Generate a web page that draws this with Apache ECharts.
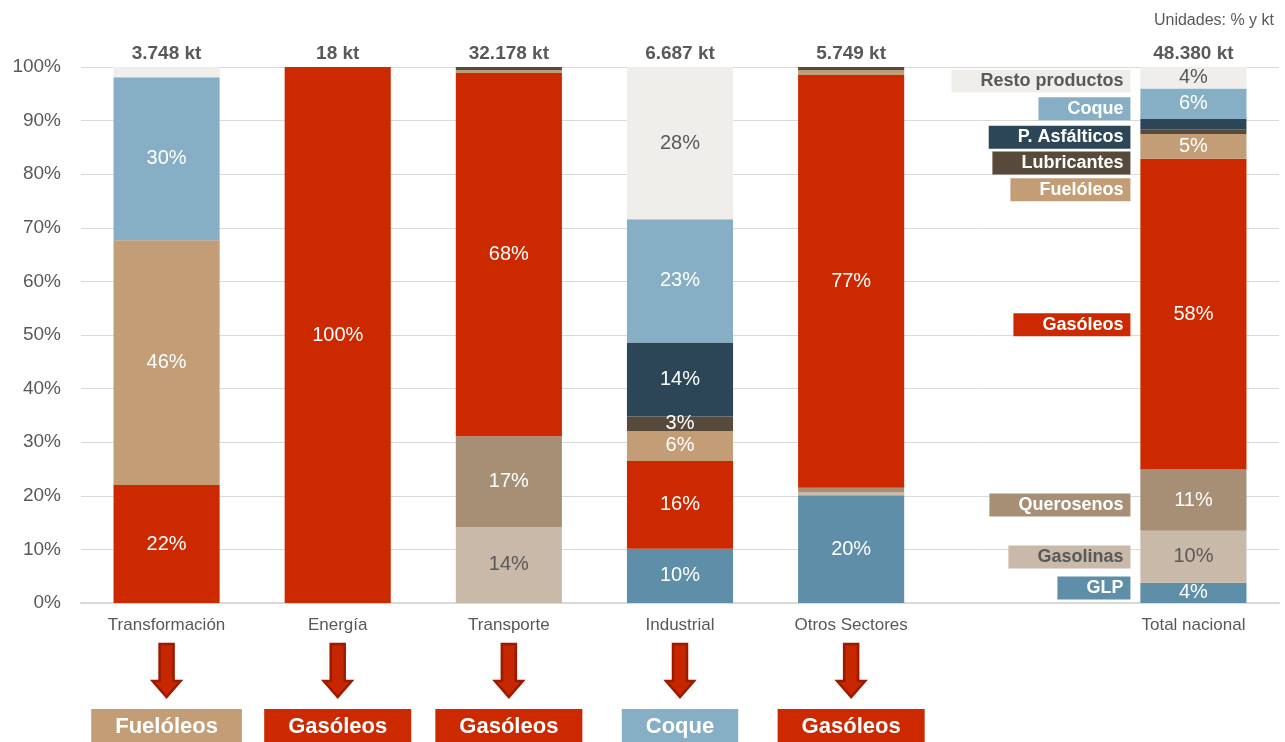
<!DOCTYPE html>
<html>
<head>
<meta charset="utf-8">
<script src="https://cdn.jsdelivr.net/npm/echarts@6/dist/echarts.min.js"></script>
<style>
html,body{margin:0;padding:0;background:#fff;}
#chart{width:1285px;height:742px;}
</style>
</head>
<body>
<div id="chart"></div>
<script>
// ---------- DATA ----------
const categories = ['Transformación', 'Energía', 'Transporte', 'Industrial', 'Otros Sectores', '', 'Total nacional'];
const totalsKt = [3748, 18, 32178, 6687, 5749, null, 48380];

const glp          = [0, 0, 0, 10.1, 20.1, '-', 3.8];
const gasolinas    = [0, 0, 14.2, 0, 0.6, '-', 9.7];
const querosenos   = [0, 0, 16.9, 0, 0.8, '-', 11.4];
const gasoleos     = [22.0, 100, 67.8, 16.4, 77.0, '-', 58.0];
const fueloleos    = [45.7, 0, 0.5, 5.6, 0.9, '-', 4.6];
const lubricantes  = [0, 0, 0.6, 2.7, 0.6, '-', 0.9];
const asfalticos   = [0, 0, 0, 13.8, 0, '-', 1.9];
const coque        = [30.4, 0, 0, 23.0, 0, '-', 5.7];
const resto        = [1.9, 0, 0, 28.4, 0, '-', 4.0];

const yTicks = [0, 10, 20, 30, 40, 50, 60, 70, 80, 90, 100];
const mainProduct = ['Fuelóleos', 'Gasóleos', 'Gasóleos', 'Coque', 'Gasóleos'];

// ---------- STYLE / LAYOUT ----------
const FONT = 'Liberation Sans, Arial, sans-serif';
const GRAY = '#595959';
const colors = {
  'GLP': '#5e8ea8',
  'Gasolinas': '#c8b9a9',
  'Querosenos': '#a68f74',
  'Gasóleos': '#cc2900',
  'Fuelóleos': '#c29d75',
  'Lubricantes': '#584a3b',
  'P. Asfálticos': '#2d4657',
  'Coque': '#86afc6',
  'Resto productos': '#efeeea'
};
const darkText = { 'Gasolinas': true, 'Resto productos': true };

const seriesDefs = [
  ['GLP', glp], ['Gasolinas', gasolinas], ['Querosenos', querosenos], ['Gasóleos', gasoleos],
  ['Fuelóleos', fueloleos], ['Lubricantes', lubricantes], ['P. Asfálticos', asfalticos],
  ['Coque', coque], ['Resto productos', resto]
];

// vertical anchor (in % units) of each product tag beside the Total bar
const tagAnchors = {
  'Resto productos': 97.4, 'Coque': 92.2, 'P. Asfálticos': 86.9, 'Lubricantes': 82.1,
  'Fuelóleos': 77.1, 'Gasóleos': 51.9, 'Querosenos': 18.3, 'Gasolinas': 8.6, 'GLP': 2.8
};

function fmtKt(v) {
  if (v == null) return '';
  return String(v).replace(/\B(?=(\d{3})+(?!\d))/g, '.') + ' kt';
}

const series = seriesDefs.map(([name, vals]) => ({
  name: name,
  type: 'bar',
  stack: 'total',
  barWidth: '62%',
  itemStyle: { color: colors[name] },
  label: {
    show: true,
    position: 'inside',
    color: darkText[name] ? GRAY : '#ffffff',
    fontFamily: FONT,
    fontSize: 20,
    formatter: p => Math.round(p.value) + '%'
  },
  data: vals.map(v => v === '-' ? '-' : { value: v, label: { show: v >= 2.5 } }),
  z: 2
}));

// totals above bars
series.push({
  name: 'totals',
  type: 'scatter',
  symbolSize: 0,
  silent: true,
  itemStyle: { opacity: 1 },
  data: totalsKt.map((v, i) => v == null ? '-' : [i, 100]),
  label: {
    show: true,
    position: 'top',
    distance: 4,
    fontFamily: FONT,
    fontWeight: 'bold',
    fontSize: 19,
    color: GRAY,
    formatter: p => fmtKt(totalsKt[p.dataIndex])
  },
  z: 5
});

// product tags next to Total nacional
series.push({
  name: 'tags',
  type: 'scatter',
  symbolSize: 0,
  silent: true,
  itemStyle: { opacity: 1 },
  data: seriesDefs.map(([name]) => ({
    value: [6, tagAnchors[name]],
    name: name,
    label: {
      backgroundColor: colors[name],
      color: darkText[name] ? GRAY : '#ffffff'
    }
  })),
  label: {
    show: true,
    position: 'left',
    distance: 63,
    opacity: 1,
    fontFamily: FONT,
    fontWeight: 'bold',
    fontSize: 18,
    padding: [3, 7, 2, 29],
    formatter: p => p.name
  },
  z: 5
});

const chart = echarts.init(document.getElementById('chart'), null, { renderer: 'canvas' });
chart.setOption({
  animation: false,
  backgroundColor: '#ffffff',
  textStyle: { fontFamily: FONT },
  title: {
    text: 'Unidades: % y kt',
    right: 6,
    top: 8,
    textStyle: { fontFamily: FONT, fontSize: 16, fontWeight: 'normal', color: GRAY }
  },
  grid: { left: 81, right: 6, top: 67, bottom: 139, containLabel: false },
  xAxis: {
    type: 'category',
    data: categories,
    axisTick: { show: false },
    axisLine: { lineStyle: { color: '#d9d9d9', width: 2 } },
    axisLabel: { color: GRAY, fontFamily: FONT, fontSize: 17, margin: 14 }
  },
  yAxis: {
    type: 'value',
    min: yTicks[0],
    max: yTicks[yTicks.length - 1],
    interval: yTicks[1] - yTicks[0],
    axisLine: { show: false },
    axisTick: { show: false },
    splitLine: { lineStyle: { color: '#d9d9d9', width: 1 } },
    axisLabel: { color: GRAY, fontFamily: FONT, fontSize: 19, margin: 20, formatter: '{value}%' }
  },
  series: series
});

// arrows and main-product boxes under the sector labels
const graphics = [];
mainProduct.forEach((prod, i) => {
  const cx = chart.convertToPixel({ xAxisIndex: 0 }, i);
  graphics.push({
    type: 'polygon',
    shape: { points: [[cx - 7, 644], [cx + 7, 644], [cx + 7, 681], [cx + 14, 681], [cx, 697], [cx - 14, 681], [cx - 7, 681]] },
    style: { fill: '#c62600', stroke: '#9c1a00', lineWidth: 2.5 },
    silent: true
  });
  graphics.push({
    type: 'text',
    x: cx,
    y: 709,
    style: {
      text: prod,
      align: 'center',
      verticalAlign: 'top',
      font: 'bold 22px ' + FONT,
      fill: '#ffffff',
      backgroundColor: colors[prod],
      padding: [7, 24, 8, 24]
    },
    silent: true
  });
});
chart.setOption({ graphic: graphics });
</script>
</body>
</html>
